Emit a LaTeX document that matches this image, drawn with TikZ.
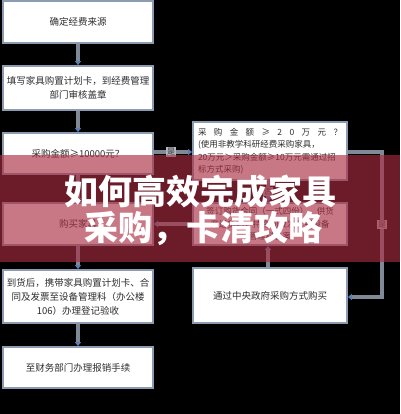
\documentclass[tikz,border=0pt]{standalone}
\usepackage{fontspec}
\setmainfont{Noto Sans CJK SC}
\newfontfamily\cjkheavy{Noto Sans CJK SC Black}
\usetikzlibrary{arrows.meta}
\definecolor{boxline}{RGB}{140,155,176}
\definecolor{conn}{RGB}{128,138,150}
\definecolor{tipblue}{RGB}{90,125,180}
\definecolor{txt}{RGB}{45,45,45}
\definecolor{banner}{RGB}{170,45,65}
\tikzset{
  flowbox/.style={draw=boxline, line width=1.8pt, fill=white, text=txt, font=\fontsize{9.5}{14}\selectfont, align=center, inner sep=2pt},
  link/.style={draw=conn, line width=4pt, -{Triangle[length=4pt,width=6pt,color=tipblue]}},
  plain/.style={draw=conn, line width=4pt},
  yesno/.style={fill=conn!60, text=txt, font=\fontsize{8}{9}\selectfont, inner sep=1pt},
}
\begin{document}
\begin{tikzpicture}[x=1pt,y=-1pt]
\fill[black] (0,0) rectangle (400,414);
\useasboundingbox (0,0) rectangle (400,414);
% left column
\node[flowbox, minimum width=150pt, minimum height=42pt] (b1) at (78,22) {确定经费来源};
\node[flowbox, minimum width=150pt, minimum height=44pt] (b2) at (78,88) {填写家具购置计划卡，到经费管理\\部门审核盖章};
\node[flowbox, minimum width=150pt, minimum height=41pt] (b3) at (78,153.5) {采购金额≥10000元？};
\node[flowbox, minimum width=150pt, minimum height=42pt] (b4) at (78,224) {购买家具};
\node[flowbox, minimum width=150pt, minimum height=53pt] (b5) at (78,296.5) {到货后，携带家具购置计划卡、合\\同及发票至设备管理科（办公楼\\106）办理登记验收};
\node[flowbox, minimum width=150pt, minimum height=41pt] (b6) at (78,367.5) {至财务部门办理报销手续};
% right column
\node[flowbox, minimum width=154pt, minimum height=58pt, align=left, font=\fontsize{8.5}{12.5}\selectfont] (r1) at (270,151) {\makebox[144pt][s]{采\hfill 购\hfill 金\hfill 额\hfill ≥\hfill 2\hfill 0\hfill 万\hfill 元\hfill ？}\\(使用非教学科研经费采购家具，\\20万元＞采购金额≥10万元需通过招\\标方式采购)};
\node[flowbox, minimum width=154pt, minimum height=42pt, font=\fontsize{8.5}{12.5}\selectfont] (r2) at (270,224) {签订购货合同（一式四份），供货\\商送货后，持合同及发票到设备\\管理科备案};
\node[flowbox, minimum width=154pt, minimum height=55pt] (r3) at (270,295.5) {通过中央政府采购方式购买};
% connectors
\draw[link] (b1) -- (b2);
\draw[link] (b2) -- (b3);
\draw[link] (b3) -- (b4);
\draw[link] (b4) -- (b5);
\draw[link] (b5) -- (b6);
\draw[link] (b3.east |- 0,152) -- node[yesno, pos=0.45] (l1) {是} (r1.west |- 0,152);
\coordinate (c1) at (382,152);
\coordinate (c2) at (382,297);
\draw[link] (r1.east |- c1) -- (c1) -- node[yesno] (l2) {是} (c2) -- (r3.east |- c2);
\draw[link] (r1.south -| 268,0) -- node[yesno] (l3) {否} (r2.north -| 268,0);
\draw[link] (r3.north -| 268,0) -- (r2.south -| 268,0);
\draw[link] (r2.west) -- (b4.east);
% banner
\fill[banner, opacity=0.64] (0,155) rectangle (400,262);
\node[text=white, font=\cjkheavy\fontsize{34}{38}\selectfont, inner sep=0pt] (t1) at (200,192) {如何高效完成家具};
\node[text=white, font=\cjkheavy\fontsize{34}{38}\selectfont, inner sep=0pt] (t2) at (203,229) {采购，卡清攻略};
\end{tikzpicture}
\end{document}
